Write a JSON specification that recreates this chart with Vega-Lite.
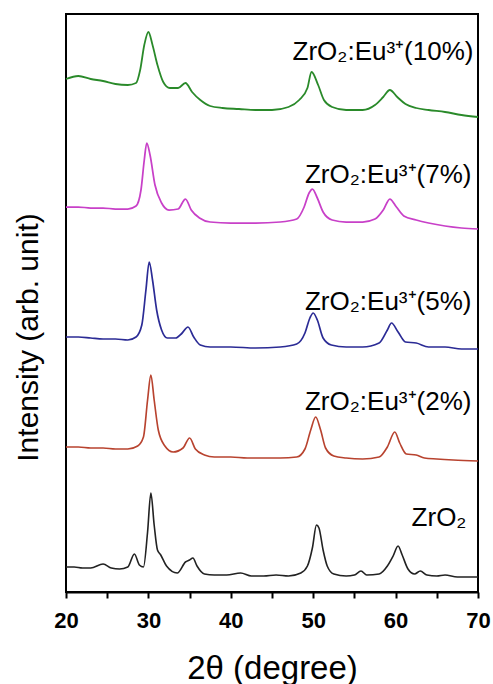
{
  "$schema": "https://vega.github.io/schema/vega-lite/v6.json",
  "width": 412,
  "height": 578,
  "autosize": {"type": "none"},
  "padding": {"left": 66, "top": 14, "right": 15, "bottom": 92},
  "background": "white",
  "config": {"view": {"stroke": "black", "strokeWidth": 2}, "font": "Liberation Sans"},
  "datasets": {
    "xrd": [
      {"sample": "ZrO2", "two_theta": 20, "intensity": 25},
      {"sample": "ZrO2", "two_theta": 21, "intensity": 25},
      {"sample": "ZrO2", "two_theta": 22, "intensity": 24},
      {"sample": "ZrO2", "two_theta": 23, "intensity": 24},
      {"sample": "ZrO2", "two_theta": 24.5, "intensity": 28},
      {"sample": "ZrO2", "two_theta": 25.5, "intensity": 24},
      {"sample": "ZrO2", "two_theta": 26.5, "intensity": 23},
      {"sample": "ZrO2", "two_theta": 27.5, "intensity": 25},
      {"sample": "ZrO2", "two_theta": 28.3, "intensity": 38},
      {"sample": "ZrO2", "two_theta": 28.9, "intensity": 27},
      {"sample": "ZrO2", "two_theta": 29.4, "intensity": 25},
      {"sample": "ZrO2", "two_theta": 29.9, "intensity": 60},
      {"sample": "ZrO2", "two_theta": 30.3, "intensity": 99},
      {"sample": "ZrO2", "two_theta": 30.7, "intensity": 67},
      {"sample": "ZrO2", "two_theta": 31.1, "intensity": 42},
      {"sample": "ZrO2", "two_theta": 31.5, "intensity": 37},
      {"sample": "ZrO2", "two_theta": 32.2, "intensity": 26},
      {"sample": "ZrO2", "two_theta": 33.5, "intensity": 19},
      {"sample": "ZrO2", "two_theta": 34.5, "intensity": 30},
      {"sample": "ZrO2", "two_theta": 35.0, "intensity": 32},
      {"sample": "ZrO2", "two_theta": 35.4, "intensity": 34},
      {"sample": "ZrO2", "two_theta": 35.9, "intensity": 26},
      {"sample": "ZrO2", "two_theta": 36.8, "intensity": 18},
      {"sample": "ZrO2", "two_theta": 38, "intensity": 17},
      {"sample": "ZrO2", "two_theta": 39.5, "intensity": 17},
      {"sample": "ZrO2", "two_theta": 41.2, "intensity": 19},
      {"sample": "ZrO2", "two_theta": 42.5, "intensity": 16},
      {"sample": "ZrO2", "two_theta": 44, "intensity": 16},
      {"sample": "ZrO2", "two_theta": 45.5, "intensity": 17},
      {"sample": "ZrO2", "two_theta": 47, "intensity": 16},
      {"sample": "ZrO2", "two_theta": 48.5, "intensity": 19},
      {"sample": "ZrO2", "two_theta": 49.3, "intensity": 26},
      {"sample": "ZrO2", "two_theta": 49.9, "intensity": 44},
      {"sample": "ZrO2", "two_theta": 50.4, "intensity": 67},
      {"sample": "ZrO2", "two_theta": 50.7, "intensity": 64},
      {"sample": "ZrO2", "two_theta": 51.2, "intensity": 42},
      {"sample": "ZrO2", "two_theta": 51.7, "intensity": 26},
      {"sample": "ZrO2", "two_theta": 52.5, "intensity": 18},
      {"sample": "ZrO2", "two_theta": 54, "intensity": 16},
      {"sample": "ZrO2", "two_theta": 55, "intensity": 17},
      {"sample": "ZrO2", "two_theta": 55.8, "intensity": 21},
      {"sample": "ZrO2", "two_theta": 56.5, "intensity": 17},
      {"sample": "ZrO2", "two_theta": 58, "intensity": 18},
      {"sample": "ZrO2", "two_theta": 59, "intensity": 26},
      {"sample": "ZrO2", "two_theta": 59.7, "intensity": 36},
      {"sample": "ZrO2", "two_theta": 60.3, "intensity": 46},
      {"sample": "ZrO2", "two_theta": 60.8, "intensity": 37},
      {"sample": "ZrO2", "two_theta": 61.5, "intensity": 23},
      {"sample": "ZrO2", "two_theta": 62.3, "intensity": 18},
      {"sample": "ZrO2", "two_theta": 63, "intensity": 21},
      {"sample": "ZrO2", "two_theta": 63.8, "intensity": 17},
      {"sample": "ZrO2", "two_theta": 65, "intensity": 16},
      {"sample": "ZrO2", "two_theta": 66, "intensity": 17},
      {"sample": "ZrO2", "two_theta": 67.5, "intensity": 15},
      {"sample": "ZrO2", "two_theta": 70, "intensity": 15},

      {"sample": "2%", "two_theta": 20, "intensity": 145},
      {"sample": "2%", "two_theta": 21.5, "intensity": 145},
      {"sample": "2%", "two_theta": 23, "intensity": 144},
      {"sample": "2%", "two_theta": 24.5, "intensity": 144},
      {"sample": "2%", "two_theta": 26, "intensity": 143},
      {"sample": "2%", "two_theta": 27.5, "intensity": 143},
      {"sample": "2%", "two_theta": 28.7, "intensity": 146},
      {"sample": "2%", "two_theta": 29.4, "intensity": 155},
      {"sample": "2%", "two_theta": 29.9, "intensity": 192},
      {"sample": "2%", "two_theta": 30.3, "intensity": 217},
      {"sample": "2%", "two_theta": 30.7, "intensity": 192},
      {"sample": "2%", "two_theta": 31.2, "intensity": 162},
      {"sample": "2%", "two_theta": 32, "intensity": 146},
      {"sample": "2%", "two_theta": 33, "intensity": 140},
      {"sample": "2%", "two_theta": 34.2, "intensity": 144},
      {"sample": "2%", "two_theta": 35.0, "intensity": 154},
      {"sample": "2%", "two_theta": 35.7, "intensity": 143},
      {"sample": "2%", "two_theta": 36.8, "intensity": 137},
      {"sample": "2%", "two_theta": 38, "intensity": 135},
      {"sample": "2%", "two_theta": 40, "intensity": 135},
      {"sample": "2%", "two_theta": 42, "intensity": 134},
      {"sample": "2%", "two_theta": 44, "intensity": 134},
      {"sample": "2%", "two_theta": 46, "intensity": 134},
      {"sample": "2%", "two_theta": 48, "intensity": 135},
      {"sample": "2%", "two_theta": 49, "intensity": 143},
      {"sample": "2%", "two_theta": 49.7, "intensity": 162},
      {"sample": "2%", "two_theta": 50.3, "intensity": 175},
      {"sample": "2%", "two_theta": 50.9, "intensity": 162},
      {"sample": "2%", "two_theta": 51.5, "intensity": 144},
      {"sample": "2%", "two_theta": 52.5, "intensity": 136},
      {"sample": "2%", "two_theta": 54, "intensity": 134},
      {"sample": "2%", "two_theta": 56, "intensity": 133},
      {"sample": "2%", "two_theta": 58, "intensity": 135},
      {"sample": "2%", "two_theta": 59, "intensity": 145},
      {"sample": "2%", "two_theta": 59.9, "intensity": 160},
      {"sample": "2%", "two_theta": 60.5, "intensity": 149},
      {"sample": "2%", "two_theta": 61.3, "intensity": 138},
      {"sample": "2%", "two_theta": 62.5, "intensity": 137},
      {"sample": "2%", "two_theta": 63.5, "intensity": 134},
      {"sample": "2%", "two_theta": 65, "intensity": 133},
      {"sample": "2%", "two_theta": 67, "intensity": 132},
      {"sample": "2%", "two_theta": 70, "intensity": 131},

      {"sample": "5%", "two_theta": 20, "intensity": 255},
      {"sample": "5%", "two_theta": 21.5, "intensity": 255},
      {"sample": "5%", "two_theta": 23, "intensity": 254},
      {"sample": "5%", "two_theta": 24.5, "intensity": 253},
      {"sample": "5%", "two_theta": 26, "intensity": 253},
      {"sample": "5%", "two_theta": 27.5, "intensity": 252},
      {"sample": "5%", "two_theta": 28.5, "intensity": 255},
      {"sample": "5%", "two_theta": 29.2, "intensity": 267},
      {"sample": "5%", "two_theta": 29.7, "intensity": 302},
      {"sample": "5%", "two_theta": 30.1, "intensity": 330},
      {"sample": "5%", "two_theta": 30.5, "intensity": 312},
      {"sample": "5%", "two_theta": 31, "intensity": 282},
      {"sample": "5%", "two_theta": 31.6, "intensity": 262},
      {"sample": "5%", "two_theta": 32.3, "intensity": 254},
      {"sample": "5%", "two_theta": 33.3, "intensity": 254},
      {"sample": "5%", "two_theta": 34.1, "intensity": 259},
      {"sample": "5%", "two_theta": 34.8, "intensity": 265},
      {"sample": "5%", "two_theta": 35.5, "intensity": 255},
      {"sample": "5%", "two_theta": 36.3, "intensity": 247},
      {"sample": "5%", "two_theta": 37.5, "intensity": 245},
      {"sample": "5%", "two_theta": 40, "intensity": 245},
      {"sample": "5%", "two_theta": 43, "intensity": 244},
      {"sample": "5%", "two_theta": 46, "intensity": 245},
      {"sample": "5%", "two_theta": 48, "intensity": 248},
      {"sample": "5%", "two_theta": 49, "intensity": 259},
      {"sample": "5%", "two_theta": 49.6, "intensity": 274},
      {"sample": "5%", "two_theta": 50.0, "intensity": 279},
      {"sample": "5%", "two_theta": 50.5, "intensity": 272},
      {"sample": "5%", "two_theta": 51.2, "intensity": 254},
      {"sample": "5%", "two_theta": 52.2, "intensity": 247},
      {"sample": "5%", "two_theta": 54, "intensity": 245},
      {"sample": "5%", "two_theta": 56, "intensity": 245},
      {"sample": "5%", "two_theta": 58, "intensity": 249},
      {"sample": "5%", "two_theta": 59, "intensity": 262},
      {"sample": "5%", "two_theta": 59.5, "intensity": 269},
      {"sample": "5%", "two_theta": 60.3, "intensity": 260},
      {"sample": "5%", "two_theta": 61.2, "intensity": 250},
      {"sample": "5%", "two_theta": 62.5, "intensity": 249},
      {"sample": "5%", "two_theta": 64, "intensity": 245},
      {"sample": "5%", "two_theta": 66, "intensity": 245},
      {"sample": "5%", "two_theta": 68, "intensity": 243},
      {"sample": "5%", "two_theta": 70, "intensity": 243},

      {"sample": "7%", "two_theta": 20, "intensity": 385},
      {"sample": "7%", "two_theta": 21.5, "intensity": 385},
      {"sample": "7%", "two_theta": 23, "intensity": 384},
      {"sample": "7%", "two_theta": 24.5, "intensity": 384},
      {"sample": "7%", "two_theta": 26, "intensity": 383},
      {"sample": "7%", "two_theta": 27.5, "intensity": 383},
      {"sample": "7%", "two_theta": 28.5, "intensity": 386},
      {"sample": "7%", "two_theta": 29.1, "intensity": 402},
      {"sample": "7%", "two_theta": 29.5, "intensity": 432},
      {"sample": "7%", "two_theta": 29.8, "intensity": 449},
      {"sample": "7%", "two_theta": 30.2, "intensity": 437},
      {"sample": "7%", "two_theta": 30.8, "intensity": 407},
      {"sample": "7%", "two_theta": 31.6, "intensity": 389},
      {"sample": "7%", "two_theta": 32.5, "intensity": 382},
      {"sample": "7%", "two_theta": 33.6, "intensity": 383},
      {"sample": "7%", "two_theta": 34.5, "intensity": 393},
      {"sample": "7%", "two_theta": 35.2, "intensity": 382},
      {"sample": "7%", "two_theta": 36.2, "intensity": 374},
      {"sample": "7%", "two_theta": 37.5, "intensity": 370},
      {"sample": "7%", "two_theta": 40, "intensity": 369},
      {"sample": "7%", "two_theta": 43, "intensity": 369},
      {"sample": "7%", "two_theta": 46, "intensity": 370},
      {"sample": "7%", "two_theta": 48, "intensity": 373},
      {"sample": "7%", "two_theta": 48.9, "intensity": 385},
      {"sample": "7%", "two_theta": 49.5, "intensity": 399},
      {"sample": "7%", "two_theta": 49.9, "intensity": 403},
      {"sample": "7%", "two_theta": 50.5, "intensity": 394},
      {"sample": "7%", "two_theta": 51.2, "intensity": 380},
      {"sample": "7%", "two_theta": 52.3, "intensity": 372},
      {"sample": "7%", "two_theta": 54, "intensity": 370},
      {"sample": "7%", "two_theta": 56, "intensity": 370},
      {"sample": "7%", "two_theta": 57.5, "intensity": 373},
      {"sample": "7%", "two_theta": 58.5, "intensity": 382},
      {"sample": "7%", "two_theta": 59.3, "intensity": 393},
      {"sample": "7%", "two_theta": 60.1, "intensity": 385},
      {"sample": "7%", "two_theta": 61, "intensity": 376},
      {"sample": "7%", "two_theta": 62.5, "intensity": 372},
      {"sample": "7%", "two_theta": 64, "intensity": 369},
      {"sample": "7%", "two_theta": 66, "intensity": 366},
      {"sample": "7%", "two_theta": 68, "intensity": 364},
      {"sample": "7%", "two_theta": 70, "intensity": 363},

      {"sample": "10%", "two_theta": 20, "intensity": 513},
      {"sample": "10%", "two_theta": 21.5, "intensity": 516},
      {"sample": "10%", "two_theta": 23, "intensity": 513},
      {"sample": "10%", "two_theta": 24.5, "intensity": 511},
      {"sample": "10%", "two_theta": 26, "intensity": 508},
      {"sample": "10%", "two_theta": 27.5, "intensity": 507},
      {"sample": "10%", "two_theta": 28.5, "intensity": 509},
      {"sample": "10%", "two_theta": 29.0, "intensity": 522},
      {"sample": "10%", "two_theta": 29.5, "intensity": 547},
      {"sample": "10%", "two_theta": 30.0, "intensity": 560},
      {"sample": "10%", "two_theta": 30.5, "intensity": 547},
      {"sample": "10%", "two_theta": 31.1, "intensity": 527},
      {"sample": "10%", "two_theta": 31.8, "intensity": 510},
      {"sample": "10%", "two_theta": 32.6, "intensity": 504},
      {"sample": "10%", "two_theta": 33.6, "intensity": 504},
      {"sample": "10%", "two_theta": 34.5, "intensity": 509},
      {"sample": "10%", "two_theta": 35.3, "intensity": 500},
      {"sample": "10%", "two_theta": 36.3, "intensity": 492},
      {"sample": "10%", "two_theta": 37.5, "intensity": 486},
      {"sample": "10%", "two_theta": 39, "intensity": 484},
      {"sample": "10%", "two_theta": 41, "intensity": 483},
      {"sample": "10%", "two_theta": 43, "intensity": 482},
      {"sample": "10%", "two_theta": 45, "intensity": 482},
      {"sample": "10%", "two_theta": 47, "intensity": 485},
      {"sample": "10%", "two_theta": 48.3, "intensity": 492},
      {"sample": "10%", "two_theta": 49.3, "intensity": 504},
      {"sample": "10%", "two_theta": 49.8, "intensity": 520},
      {"sample": "10%", "two_theta": 50.6, "intensity": 507},
      {"sample": "10%", "two_theta": 51.3, "intensity": 492},
      {"sample": "10%", "two_theta": 52.3, "intensity": 485},
      {"sample": "10%", "two_theta": 54, "intensity": 482},
      {"sample": "10%", "two_theta": 56, "intensity": 482},
      {"sample": "10%", "two_theta": 57.5, "intensity": 487},
      {"sample": "10%", "two_theta": 58.5, "intensity": 495},
      {"sample": "10%", "two_theta": 59.3, "intensity": 502},
      {"sample": "10%", "two_theta": 60.2, "intensity": 495},
      {"sample": "10%", "two_theta": 61.2, "intensity": 488},
      {"sample": "10%", "two_theta": 62.5, "intensity": 484},
      {"sample": "10%", "two_theta": 64, "intensity": 482},
      {"sample": "10%", "two_theta": 66, "intensity": 480},
      {"sample": "10%", "two_theta": 68, "intensity": 477},
      {"sample": "10%", "two_theta": 70, "intensity": 475}
    ],
    "labels": [
      {"label": "ZrO₂:Eu³⁺(10%)", "two_theta": 69.45, "intensity": 532},
      {"label": "ZrO₂:Eu³⁺(7%)", "two_theta": 69.2, "intensity": 409},
      {"label": "ZrO₂:Eu³⁺(5%)", "two_theta": 69.2, "intensity": 282},
      {"label": "ZrO₂:Eu³⁺(2%)", "two_theta": 69.2, "intensity": 182},
      {"label": "ZrO₂", "two_theta": 68.6, "intensity": 66}
    ]
  },
  "layer": [
    {
      "data": {"name": "xrd"},
      "mark": {"type": "line", "interpolate": "monotone", "strokeJoin": "round"},
      "encoding": {
        "x": {
          "field": "two_theta", "type": "quantitative",
          "scale": {"domain": [20, 70], "nice": false},
          "axis": {
            "title": "2θ (degree)",
            "values": [20, 25, 30, 35, 40, 45, 50, 55, 60, 65, 70],
            "labelExpr": "datum.value % 10 === 0 ? datum.label : ''",
            "labelFontWeight": "bold", "labelFontSize": 22, "labelColor": "black",
            "labelBaseline": "alphabetic", "labelPadding": 29, "labelFlush": false, "labelOverlap": false,
            "tickSize": 6, "tickWidth": 2, "tickColor": "black",
            "domainColor": "black", "domainWidth": 2, "grid": false,
            "titleFontSize": 33, "titleFontWeight": "normal", "titleColor": "black",
            "titleBaseline": "alphabetic", "titleY": 86
          }
        },
        "y": {
          "field": "intensity", "type": "quantitative",
          "scale": {"domain": [0, 578], "nice": false, "zero": false},
          "axis": {
            "title": "Intensity (arb. unit)", "ticks": false, "labels": false, "domain": false, "grid": false,
            "titleFontSize": 30, "titleFontWeight": "normal", "titleColor": "black",
            "titleAngle": -90, "titleX": -29, "titleY": 323, "titleAlign": "center", "titleBaseline": "alphabetic"
          }
        },
        "color": {
          "field": "sample", "type": "nominal",
          "scale": {"domain": ["ZrO2", "2%", "5%", "7%", "10%"], "range": ["#222222", "#b8432f", "#2b2b95", "#c840c8", "#2a8a2a"]},
          "legend": null
        },
        "strokeWidth": {
          "field": "sample", "type": "nominal",
          "scale": {"domain": ["ZrO2", "2%", "5%", "7%", "10%"], "range": [1.6, 1.8, 2.2, 3, 4]},
          "legend": null
        }
      }
    },
    {
      "data": {"name": "labels"},
      "mark": {"type": "text", "align": "right", "baseline": "alphabetic", "fontSize": 26, "font": "Liberation Sans", "color": "black"},
      "encoding": {
        "x": {"field": "two_theta", "type": "quantitative"},
        "y": {"field": "intensity", "type": "quantitative"},
        "text": {"field": "label"}
      }
    }
  ]
}
